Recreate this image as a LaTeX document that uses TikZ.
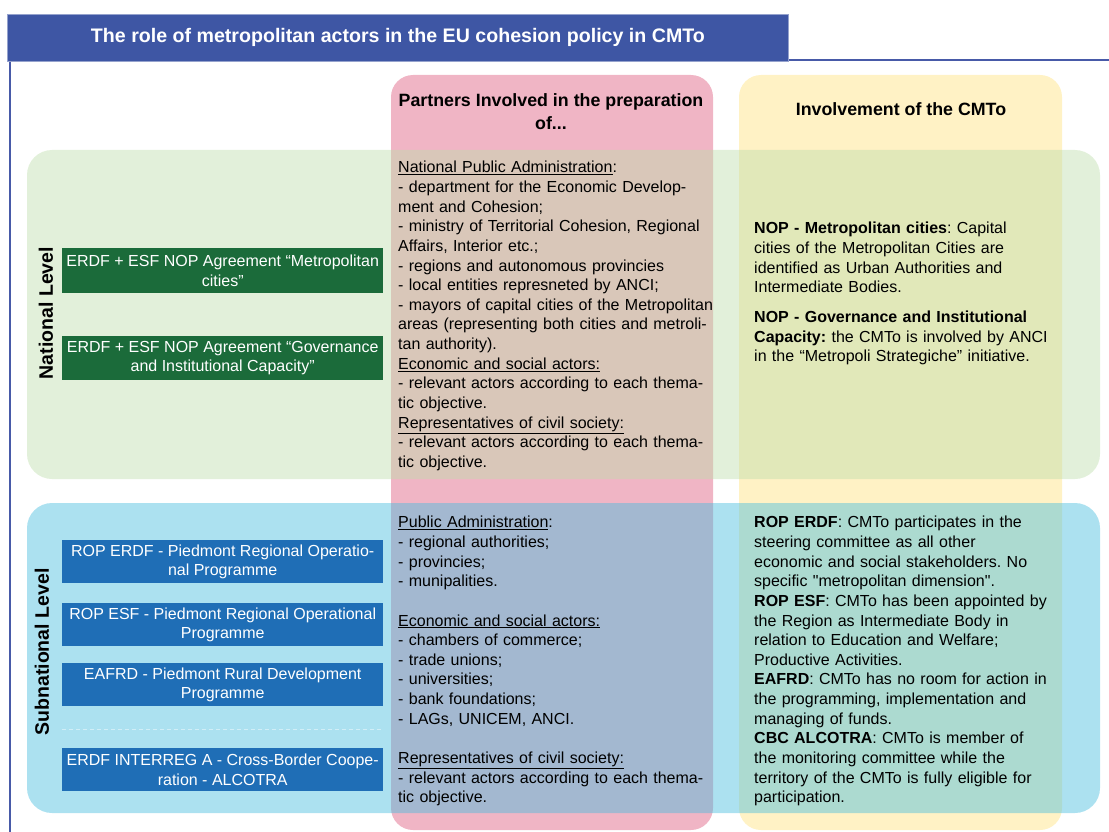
\documentclass[tikz,border=0pt]{standalone}
\usepackage{fontspec}
\setmainfont{Liberation Sans}
\usetikzlibrary{positioning}
\frenchspacing

\definecolor{titleblue}{RGB}{62,86,164}
\definecolor{frameblue}{RGB}{72,90,168}
\definecolor{pinkcol}{RGB}{240,181,197}
\definecolor{yellowcol}{RGB}{255,242,197}
\definecolor{greenband}{RGB}{190,222,172}
\definecolor{blueband}{RGB}{71,189,222}
\definecolor{natgreen}{RGB}{27,107,58}
\definecolor{subblue}{RGB}{31,110,182}

\begin{document}
\begin{tikzpicture}
	[	x=1pt, y=-1pt,			% координаты в пикселях, ось y вниз
		font=\fontsize{16}{19.65}\selectfont,		% основной текст
		column/.style={rounded corners=22pt},		% колонки
		band/.style={rounded corners=25pt,fill opacity=0.45},		% полосы уровней
		progbox/.style={fill=natgreen,text=white,minimum width=321pt,minimum height=44pt,
			inner sep=0pt,align=center,anchor=north west},		% программы
		subbox/.style={progbox,fill=subblue},
		coltext/.style={anchor=north west,inner sep=0pt,align=left,text width=316pt},
		head/.style={font=\fontsize{17.8}{22.5}\selectfont\bfseries,align=center},
		level/.style={font=\fontsize{19.5}{22}\selectfont\bfseries,rotate=90}	]
	\useasboundingbox (0,0) rectangle (1109,832);
	\fill[pinkcol,column] (391,75) rectangle (713,830);		% колонка партнёров
	\fill[yellowcol,column] (739,75) rectangle (1062,830);		% колонка CMTo
	\fill[greenband,band] (27,150) rectangle (1100,479);		% национальный уровень
	\fill[blueband,band] (27,503) rectangle (1100,813);		% субнациональный уровень
	\draw[frameblue,line width=2.5pt] (10,60) -- (10,832);		% рамка
	\draw[frameblue,line width=2.5pt] (7,60) -- (1109,60);
	\node[fill=titleblue,draw=titleblue!55!white,line width=0.8pt,minimum width=781pt,minimum height=47pt,
		anchor=north west,text=white,font=\fontsize{19.6}{22}\selectfont\bfseries] (title) at (7,14)
		{The role of metropolitan actors in the EU cohesion policy in CMTo};
	\node[head] (partners) at (551,111.5) {Partners Involved in the preparation\\of...};
	\node[head] (involvement) at (901,109) {Involvement of the CMTo};
	\node[level] (natlevel) at (46,313) {National Level};
	\node[level] (sublevel) at (42,652) {Subnational Level};
	% программы национального уровня
	\node[progbox,minimum height=45pt] (nopmetro) at (62,248) {ERDF + ESF NOP Agreement “Metropolitan\\cities”};
	\node[progbox] (nopgov) at (62,336) {ERDF + ESF NOP Agreement “Governance\\and Institutional Capacity”};
	% программы субнационального уровня
	\foreach \y/\t/\n in {540/{ROP ERDF - Piedmont Regional Operatio-\\nal Programme}/roperdf,
			603/{ROP ESF - Piedmont Regional Operational\\Programme}/ropesf,
			663/{EAFRD - Piedmont Rural Development\\Programme}/eafrd,
			748/{ERDF INTERREG A - Cross-Border Coope-\\ration - ALCOTRA}/interreg}
		\node[subbox,minimum height=43pt] (\n) at (62,\y) {\t};
	\draw[white!75!blueband,line width=1pt,dash pattern=on 4pt off 3pt] (62,729) -- (383,729);
	% партнёры
	\node[coltext] (natpartners) at (398,161) {\underline{National Public Administration}:\\
		- department for the Economic Develop-\\
		ment and Cohesion;\\
		- ministry of Territorial Cohesion, Regional\\
		Affairs, Interior etc.;\\
		- regions and autonomous provincies\\
		- local entities represneted by ANCI;\\
		- mayors of capital cities of the Metropolitan\\
		areas (representing both cities and metroli-\\
		tan authority).\\
		\underline{Economic and social actors:}\\
		- relevant actors according to each thema-\\
		tic objective.\\
		\underline{Representatives of civil society:}\\
		- relevant actors according to each thema-\\
		tic objective.};
	\node[coltext] (subpartners) at (398,516) {\underline{Public Administration}:\\
		- regional authorities;\\
		- provincies;\\
		- munipalities.\\[19.65pt]
		\underline{Economic and social actors:}\\
		- chambers of commerce;\\
		- trade unions;\\
		- universities;\\
		- bank foundations;\\
		- LAGs, UNICEM, ANCI.\\[19.65pt]
		\underline{Representatives of civil society:}\\
		- relevant actors according to each thema-\\
		tic objective.};
	% участие CMTo
	\node[coltext,text width=305pt] (natcmto) at (754,222) {\textbf{NOP - Metropolitan cities}: Capital\\
		cities of the Metropolitan Cities are\\
		identified as Urban Authorities and\\
		Intermediate Bodies.\\[10pt]
		\textbf{NOP - Governance and Institutional}\\
		\textbf{Capacity:} the CMTo is involved by ANCI\\
		in the “Metropoli Strategiche” initiative.};
	\node[coltext,text width=305pt] (subcmto) at (754,516) {\textbf{ROP ERDF}: CMTo participates in the\\
		steering committee as all other\\
		economic and social stakeholders. No\\
		specific \textquotedbl metropolitan dimension\textquotedbl.\\
		\textbf{ROP ESF}: CMTo has been appointed by\\
		the Region as Intermediate Body in\\
		relation to Education and Welfare;\\
		Productive Activities.\\
		\textbf{EAFRD}: CMTo has no room for action in\\
		the programming, implementation and\\
		managing of funds.\\
		\textbf{CBC ALCOTRA}: CMTo is member of\\
		the monitoring committee while the\\
		territory of the CMTo is fully eligible for\\
		participation.};
\end{tikzpicture}
\end{document}
